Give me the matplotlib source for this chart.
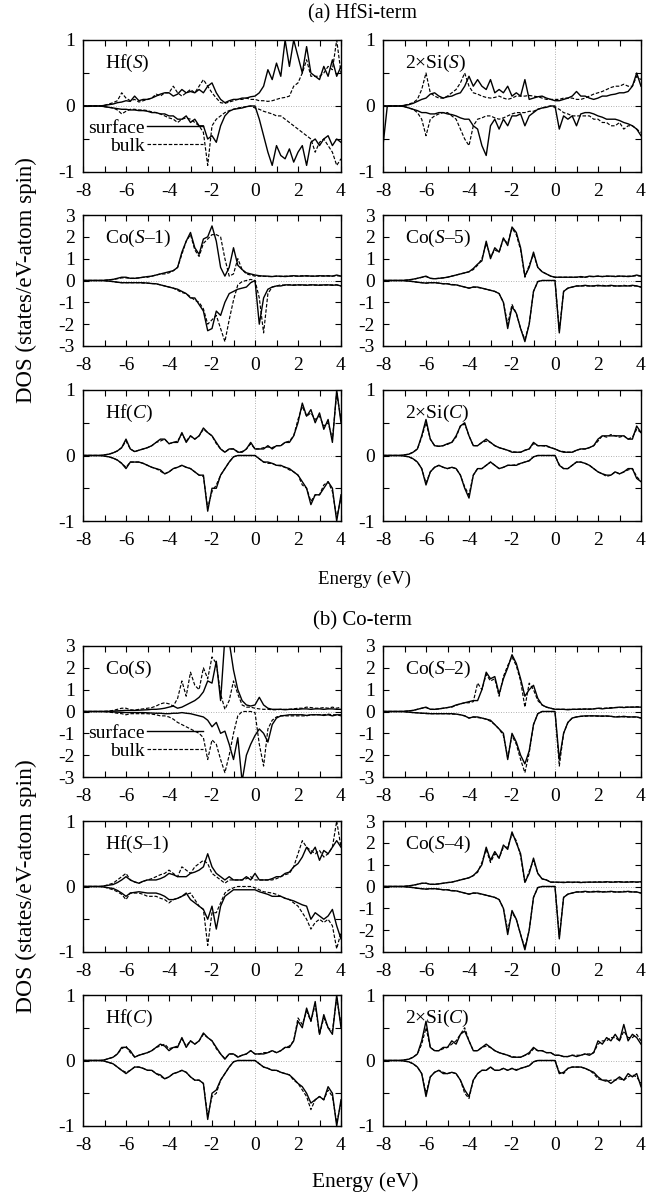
import numpy as np
import matplotlib
matplotlib.use("Agg")
import matplotlib.pyplot as plt
from matplotlib.ticker import MultipleLocator, FormatStrFormatter

plt.rcParams['font.family'] = ['Liberation Serif', 'DejaVu Serif']
plt.rcParams['mathtext.fontset'] = 'custom'
plt.rcParams['mathtext.rm'] = 'Liberation Serif'
plt.rcParams['mathtext.it'] = 'Liberation Serif:italic'
plt.rcParams['axes.unicode_minus'] = False

# energy grid (eV), 0.2 eV step from -8 to 4
energy = np.linspace(-8, 4, 61)

#---------------- (a) HfSi-term ----------------
# Hf(S)
a_hfS_surf_up = [0, 0, 0, 0, 0, 0.01, 0.02, 0.03, 0.05, 0.06, 0.08, 0.07, 0.15, 0.08, 0.1,
                 0.1, 0.12, 0.15, 0.18, 0.2, 0.2, 0.15, 0.18, 0.25, 0.2, 0.22, 0.2, 0.25, 0.2, 0.3,
                 0.35, 0.2, 0.1, 0.05, 0.08, 0.1, 0.1, 0.12, 0.12, 0.14, 0.15, 0.2, 0.3, 0.55, 0.4,
                 0.65, 0.45, 1.0, 0.6, 1.0, 0.75, 0.5, 0.9, 0.5, 0.45, 0.4, 0.6, 0.45, 0.7, 0.45, 0.6]
a_hfS_surf_dn = [0, 0, 0, 0, 0, -0.01, -0.02, -0.03, -0.04, -0.05, -0.05, -0.06, -0.06, -0.07, -0.07,
                 -0.08, -0.1, -0.1, -0.12, -0.12, -0.15, -0.15, -0.2, -0.2, -0.15, -0.25, -0.2, -0.3, -0.3, -0.5,
                 -0.45, -0.55, -0.3, -0.15, -0.08, -0.05, -0.04, -0.03, -0.01, 0, 0, -0.2, -0.45, -0.7, -0.9,
                 -0.6, -0.75, -0.8, -0.65, -0.85, -0.7, -0.6, -0.9, -0.55, -0.5, -0.6, -0.5, -0.45, -0.6, -0.5, -0.55]
a_hfS_bulk_up = [0, 0, 0, 0, 0, 0.01, 0.03, 0.05, 0.08, 0.2, 0.12, 0.08, 0.1, 0.06, 0.08,
                 0.1, 0.12, 0.18, 0.15, 0.2, 0.2, 0.3, 0.2, 0.15, 0.2, 0.25, 0.2, 0.3, 0.4, 0.3,
                 0.2, 0.12, 0.05, 0.04, 0.06, 0.08, 0.1, 0.1, 0.12, 0.1, 0.1, 0.08, 0.08, 0.07, 0.08,
                 0.1, 0.12, 0.13, 0.15, 0.3, 0.35, 0.5, 0.7, 0.45, 0.45, 0.45, 0.5, 0.6, 0.55, 1.0, 0.5]
a_hfS_bulk_dn = [0, 0, 0, 0, 0, -0.01, -0.02, -0.03, -0.06, -0.12, -0.08, -0.05, -0.05, -0.06, -0.06,
                 -0.07, -0.09, -0.1, -0.12, -0.15, -0.18, -0.2, -0.25, -0.2, -0.18, -0.2, -0.25, -0.3, -0.4, -0.9,
                 -0.3, -0.2, -0.15, -0.1, -0.07, -0.05, -0.03, -0.02, -0.01, 0, -0.03, -0.05, -0.08, -0.1, -0.12,
                 -0.15, -0.15, -0.2, -0.25, -0.3, -0.35, -0.4, -0.45, -0.5, -0.7, -0.55, -0.5, -0.6, -0.7, -0.9, -0.8]

# 2xSi(S)
a_siS_surf_up = [0, 0, 0, 0, 0, 0.01, 0.02, 0.04, 0.07, 0.1, 0.12, 0.18, 0.2, 0.15, 0.12,
                 0.14, 0.15, 0.18, 0.2, 0.3, 0.45, 0.3, 0.4, 0.3, 0.25, 0.4, 0.2, 0.25, 0.2, 0.3,
                 0.15, 0.2, 0.15, 0.4, 0.1, 0.12, 0.14, 0.15, 0.12, 0.1, 0.08, 0.08, 0.1, 0.12, 0.15,
                 0.22, 0.15, 0.15, 0.12, 0.1, 0.12, 0.15, 0.15, 0.17, 0.18, 0.2, 0.2, 0.22, 0.3, 0.5, 0.3]
a_siS_surf_dn = [-0.6, 0, 0, 0, 0, -0.01, -0.03, -0.05, -0.07, -0.1, -0.1, -0.12, -0.12, -0.1, -0.1,
                 -0.12, -0.13, -0.15, -0.18, -0.2, -0.2, -0.3, -0.35, -0.6, -0.75, -0.3, -0.2, -0.35, -0.2, -0.3,
                 -0.15, -0.15, -0.12, -0.3, -0.15, -0.1, -0.05, -0.03, -0.02, 0, 0, -0.35, -0.15, -0.2, -0.15,
                 -0.3, -0.12, -0.1, -0.1, -0.12, -0.15, -0.17, -0.2, -0.2, -0.2, -0.22, -0.25, -0.27, -0.3, -0.35, -0.45]
a_siS_bulk_up = [0, 0, 0, 0, 0, 0.01, 0.03, 0.05, 0.1, 0.25, 0.5, 0.2, 0.15, 0.12, 0.12,
                 0.15, 0.2, 0.25, 0.35, 0.5, 0.3, 0.2, 0.18, 0.15, 0.13, 0.12, 0.13, 0.15, 0.12, 0.1,
                 0.12, 0.15, 0.15, 0.15, 0.16, 0.15, 0.14, 0.12, 0.1, 0.1, 0.1, 0.1, 0.12, 0.12, 0.12,
                 0.1, 0.1, 0.12, 0.15, 0.18, 0.2, 0.22, 0.25, 0.28, 0.3, 0.3, 0.33, 0.3, 0.3, 0.45, 0.4]
a_siS_bulk_dn = [0, 0, 0, 0, 0, -0.01, -0.03, -0.05, -0.1, -0.2, -0.45, -0.2, -0.15, -0.12, -0.1,
                 -0.1, -0.15, -0.2, -0.35, -0.5, -0.6, -0.3, -0.2, -0.18, -0.15, -0.15, -0.18, -0.2, -0.18, -0.15,
                 -0.12, -0.1, -0.1, -0.1, -0.08, -0.08, -0.05, -0.03, -0.01, 0, -0.02, -0.05, -0.1, -0.12, -0.15,
                 -0.15, -0.15, -0.15, -0.15, -0.2, -0.2, -0.25, -0.25, -0.3, -0.3, -0.25, -0.35, -0.3, -0.3, -0.35, -0.4]

# Co(S-1)
a_co1_surf_up = [0, 0, 0, 0, 0, 0.01, 0.03, 0.05, 0.1, 0.15, 0.15, 0.1, 0.1, 0.12, 0.15,
                 0.18, 0.2, 0.25, 0.3, 0.35, 0.4, 0.45, 0.6, 1.3, 1.8, 2.2, 1.5, 1.2, 1.9, 2.0,
                 2.5, 1.8, 0.6, 0.2, 0.6, 1.5, 0.7, 0.5, 0.35, 0.3, 0.25, 0.22, 0.2, 0.2, 0.18,
                 0.2, 0.2, 0.18, 0.2, 0.22, 0.2, 0.2, 0.22, 0.2, 0.2, 0.22, 0.2, 0.22, 0.2, 0.25, 0.2]
a_co1_surf_dn = [0, 0, 0, 0, 0, -0.01, -0.03, -0.05, -0.08, -0.1, -0.1, -0.1, -0.1, -0.1, -0.1,
                 -0.12, -0.14, -0.15, -0.2, -0.25, -0.3, -0.35, -0.4, -0.5, -0.6, -0.8, -0.8, -1.1, -1.4, -2.3,
                 -2.2, -1.4, -1.6, -1.0, -0.6, -0.5, -0.4, -0.35, -0.3, -0.1, 0, -2.0, -0.8, -0.4, -0.3,
                 -0.25, -0.25, -0.2, -0.2, -0.22, -0.2, -0.2, -0.22, -0.2, -0.2, -0.22, -0.2, -0.2, -0.22, -0.2, -0.25]
a_co1_bulk_up = [0, 0, 0, 0, 0, 0.01, 0.03, 0.05, 0.08, 0.12, 0.12, 0.1, 0.1, 0.12, 0.15,
                 0.15, 0.2, 0.25, 0.3, 0.3, 0.35, 0.45, 0.6, 1.2, 1.8, 2.1, 1.4, 1.1, 1.7, 1.9,
                 2.1, 2.1, 2.0, 1.0, 0.2, 0.3, 1.0, 0.5, 0.3, 0.25, 0.2, 0.2, 0.2, 0.18, 0.18,
                 0.2, 0.18, 0.2, 0.2, 0.2, 0.2, 0.22, 0.2, 0.2, 0.2, 0.2, 0.22, 0.2, 0.2, 0.22, 0.2]
a_co1_bulk_dn = [0, 0, 0, 0, 0, -0.01, -0.03, -0.05, -0.08, -0.1, -0.1, -0.1, -0.1, -0.1, -0.12,
                 -0.12, -0.14, -0.15, -0.2, -0.25, -0.3, -0.35, -0.45, -0.55, -0.6, -0.75, -0.9, -1.0, -1.3, -2.0,
                 -1.8, -1.6, -2.2, -2.8, -1.8, -0.9, -0.2, -0.05, 0.0, 0.05, 0, -0.8, -2.4, -0.6, -0.3,
                 -0.25, -0.2, -0.22, -0.2, -0.2, -0.2, -0.22, -0.2, -0.2, -0.22, -0.2, -0.22, -0.2, -0.2, -0.2, -0.25]

# Co(S-5)
a_co5_surf_up = [0, 0, 0, 0, 0, 0.01, 0.03, 0.06, 0.1, 0.15, 0.2, 0.1, 0.08, 0.1, 0.12,
                 0.15, 0.2, 0.25, 0.3, 0.35, 0.4, 0.55, 0.75, 0.9, 1.8, 1.0, 1.5, 1.3, 1.95, 1.6,
                 2.45, 2.2, 1.5, 0.2, 0.6, 1.3, 0.6, 0.4, 0.3, 0.2, 0.15, 0.15, 0.15, 0.15, 0.15,
                 0.15, 0.18, 0.15, 0.2, 0.18, 0.2, 0.18, 0.2, 0.2, 0.18, 0.2, 0.2, 0.18, 0.2, 0.25, 0.2]
a_co5_surf_dn = [0, 0, 0, 0, 0, -0.01, -0.03, -0.05, -0.08, -0.1, -0.12, -0.1, -0.1, -0.12, -0.15,
                 -0.15, -0.2, -0.2, -0.25, -0.3, -0.35, -0.3, -0.3, -0.35, -0.4, -0.45, -0.5, -0.6, -1.0, -2.2,
                 -1.2, -1.5, -2.2, -2.8, -2.0, -0.5, -0.05, 0, 0, 0, 0, -2.4, -0.5, -0.35, -0.3,
                 -0.25, -0.25, -0.22, -0.25, -0.25, -0.22, -0.25, -0.25, -0.22, -0.25, -0.25, -0.25, -0.25, -0.22, -0.25, -0.3]
a_co5_bulk_up = [0, 0, 0, 0, 0, 0.01, 0.03, 0.05, 0.1, 0.14, 0.18, 0.1, 0.08, 0.1, 0.12,
                 0.15, 0.2, 0.25, 0.3, 0.35, 0.4, 0.5, 0.7, 1.0, 1.7, 1.1, 1.4, 1.3, 1.9, 1.7,
                 2.4, 2.1, 1.4, 0.15, 0.7, 1.2, 0.6, 0.4, 0.3, 0.2, 0.15, 0.15, 0.15, 0.15, 0.15,
                 0.15, 0.15, 0.15, 0.18, 0.18, 0.2, 0.18, 0.2, 0.18, 0.2, 0.2, 0.18, 0.2, 0.2, 0.22, 0.2]
a_co5_bulk_dn = [0, 0, 0, 0, 0, -0.01, -0.03, -0.05, -0.08, -0.1, -0.12, -0.1, -0.1, -0.12, -0.15,
                 -0.15, -0.18, -0.2, -0.25, -0.3, -0.35, -0.3, -0.32, -0.35, -0.4, -0.45, -0.5, -0.6, -1.0, -2.0,
                 -1.1, -1.5, -2.2, -2.7, -2.0, -0.5, -0.05, 0, 0, 0, 0, -2.3, -0.5, -0.35, -0.3,
                 -0.25, -0.25, -0.25, -0.25, -0.25, -0.25, -0.22, -0.25, -0.25, -0.25, -0.25, -0.22, -0.25, -0.25, -0.25, -0.3]

# Hf(C)
a_hfC_surf_up = [0, 0, 0, 0, 0, 0.01, 0.02, 0.04, 0.07, 0.12, 0.25, 0.1, 0.06, 0.08, 0.1,
                 0.12, 0.15, 0.2, 0.25, 0.25, 0.18, 0.2, 0.2, 0.35, 0.2, 0.3, 0.25, 0.3, 0.42, 0.35,
                 0.3, 0.2, 0.1, 0.05, 0.1, 0.1, 0.05, 0.05, 0.1, 0.2, 0.1, 0.1, 0.1, 0.15, 0.1,
                 0.15, 0.15, 0.2, 0.2, 0.3, 0.5, 0.8, 0.6, 0.7, 0.5, 0.65, 0.4, 0.55, 0.2, 1.0, 0.5]
a_hfC_surf_dn = [0, 0, 0, 0, 0, -0.01, -0.02, -0.04, -0.07, -0.12, -0.2, -0.1, -0.1, -0.1, -0.12,
                 -0.15, -0.18, -0.2, -0.22, -0.28, -0.25, -0.2, -0.18, -0.15, -0.18, -0.2, -0.25, -0.3, -0.3, -0.85,
                 -0.5, -0.5, -0.3, -0.2, -0.1, -0.02, 0, 0, 0, 0, 0, -0.05, -0.1, -0.1, -0.12,
                 -0.15, -0.15, -0.18, -0.2, -0.25, -0.3, -0.4, -0.5, -0.75, -0.6, -0.6, -0.5, -0.4, -0.5, -1.0, -0.6]
a_hfC_bulk_up = [0, 0, 0, 0, 0, 0.01, 0.02, 0.04, 0.07, 0.12, 0.22, 0.1, 0.06, 0.08, 0.1,
                 0.12, 0.15, 0.2, 0.22, 0.25, 0.18, 0.2, 0.22, 0.33, 0.22, 0.3, 0.25, 0.3, 0.4, 0.35,
                 0.3, 0.18, 0.1, 0.05, 0.1, 0.1, 0.06, 0.06, 0.1, 0.18, 0.1, 0.1, 0.12, 0.13, 0.12,
                 0.15, 0.15, 0.2, 0.22, 0.3, 0.55, 0.75, 0.6, 0.65, 0.55, 0.6, 0.45, 0.5, 0.25, 0.95, 0.55]
a_hfC_bulk_dn = [0, 0, 0, 0, 0, -0.01, -0.02, -0.04, -0.07, -0.12, -0.18, -0.1, -0.1, -0.1, -0.12,
                 -0.15, -0.18, -0.2, -0.24, -0.28, -0.25, -0.2, -0.18, -0.15, -0.18, -0.2, -0.25, -0.3, -0.32, -0.8,
                 -0.55, -0.45, -0.3, -0.2, -0.1, -0.02, 0, 0, 0, 0, 0, -0.05, -0.1, -0.12, -0.12,
                 -0.15, -0.16, -0.18, -0.22, -0.25, -0.3, -0.45, -0.5, -0.7, -0.6, -0.6, -0.45, -0.4, -0.55, -0.95, -0.65]

# 2xSi(C)
a_siC_surf_up = [0, 0, 0, 0, 0, 0.01, 0.02, 0.05, 0.1, 0.3, 0.55, 0.25, 0.15, 0.14, 0.15,
                 0.18, 0.2, 0.3, 0.45, 0.5, 0.3, 0.15, 0.15, 0.2, 0.25, 0.2, 0.15, 0.12, 0.1, 0.08,
                 0.05, 0.05, 0.05, 0.08, 0.1, 0.2, 0.15, 0.15, 0.15, 0.12, 0.1, 0.07, 0.05, 0.05, 0.05,
                 0.08, 0.1, 0.1, 0.12, 0.15, 0.25, 0.3, 0.3, 0.3, 0.3, 0.3, 0.3, 0.25, 0.25, 0.45, 0.35]
a_siC_surf_dn = [0, 0, 0, 0, 0, -0.01, -0.02, -0.05, -0.1, -0.2, -0.45, -0.25, -0.18, -0.15, -0.18,
                 -0.2, -0.18, -0.2, -0.3, -0.5, -0.65, -0.3, -0.2, -0.2, -0.15, -0.1, -0.15, -0.2, -0.18, -0.15,
                 -0.15, -0.15, -0.12, -0.1, -0.08, -0.02, 0, 0, 0, 0, 0, -0.15, -0.2, -0.2, -0.15,
                 -0.1, -0.1, -0.12, -0.15, -0.2, -0.25, -0.28, -0.3, -0.3, -0.25, -0.28, -0.25, -0.2, -0.2, -0.35, -0.4]
a_siC_bulk_up = [0, 0, 0, 0, 0, 0.01, 0.02, 0.05, 0.1, 0.28, 0.5, 0.25, 0.15, 0.14, 0.15,
                 0.17, 0.2, 0.28, 0.45, 0.48, 0.3, 0.15, 0.15, 0.2, 0.22, 0.2, 0.15, 0.12, 0.1, 0.08,
                 0.06, 0.05, 0.05, 0.08, 0.1, 0.18, 0.15, 0.15, 0.14, 0.12, 0.1, 0.07, 0.06, 0.05, 0.05,
                 0.08, 0.1, 0.1, 0.12, 0.15, 0.22, 0.3, 0.28, 0.32, 0.3, 0.28, 0.3, 0.25, 0.28, 0.4, 0.35]
a_siC_bulk_dn = [0, 0, 0, 0, 0, -0.01, -0.02, -0.05, -0.1, -0.2, -0.42, -0.25, -0.18, -0.15, -0.18,
                 -0.2, -0.18, -0.2, -0.3, -0.48, -0.6, -0.3, -0.2, -0.2, -0.15, -0.1, -0.15, -0.2, -0.18, -0.15,
                 -0.15, -0.14, -0.12, -0.1, -0.08, -0.02, 0, 0, 0, 0, 0, -0.14, -0.2, -0.2, -0.15,
                 -0.1, -0.1, -0.12, -0.15, -0.2, -0.25, -0.28, -0.32, -0.3, -0.25, -0.28, -0.25, -0.22, -0.2, -0.32, -0.4]

#---------------- (b) Co-term ----------------
# Co(S)
b_coS_surf_up = [0, 0, 0, 0, 0, 0.0, 0.01, 0.02, 0.03, 0.04, 0.05, 0.05, 0.05, 0.06, 0.07,
                 0.08, 0.1, 0.1, 0.12, 0.15, 0.2, 0.25, 0.15, 0.2, 0.3, 0.4, 0.5, 0.65, 0.9, 1.4,
                 1.3, 2.3, 0.5, 3.4, 3.2, 1.9, 1.0, 0.5, 0.3, 0.25, 0.3, 0.65, 0.3, 0.15, 0.1,
                 0.1, 0.1, 0.08, 0.1, 0.1, 0.1, 0.12, 0.12, 0.1, 0.12, 0.12, 0.1, 0.12, 0.12, 0.1, 0.1]
b_coS_surf_dn = [0, 0, 0, 0, 0, 0, -0.01, -0.02, -0.03, -0.04, -0.05, -0.05, -0.05, -0.05, -0.05,
                 -0.06, -0.07, -0.08, -0.08, -0.1, -0.1, -0.08, -0.08, -0.05, -0.08, -0.1, -0.15, -0.2, -0.25, -0.4,
                 -0.7, -0.5, -1.0, -0.9, -1.5, -2.2, -1.2, -3.2, -2.0, -1.5, -1.1, -0.8, -1.0, -1.4, -0.6,
                 -0.3, -0.2, -0.18, -0.15, -0.15, -0.15, -0.15, -0.18, -0.15, -0.15, -0.15, -0.18, -0.15, -0.2, -0.15, -0.15]
b_coS_bulk_up = [0, 0, 0, 0, 0, 0.01, 0.02, 0.05, 0.1, 0.15, 0.15, 0.08, 0.06, 0.1, 0.12,
                 0.15, 0.18, 0.25, 0.35, 0.4, 0.35, 0.25, 0.6, 1.4, 0.7, 1.8, 1.2, 1.0, 2.0, 1.5,
                 2.5, 2.2, 0.8, 0.1, 0.5, 1.4, 0.8, 0.3, 0.2, 0.2, 0.15, 0.12, 0.1, 0.1, 0.08,
                 0.08, 0.1, 0.1, 0.1, 0.12, 0.15, 0.15, 0.2, 0.18, 0.15, 0.15, 0.18, 0.15, 0.2, 0.15, 0.2]
b_coS_bulk_dn = [0, 0, 0, 0, 0, -0.01, -0.03, -0.05, -0.08, -0.1, -0.15, -0.1, -0.1, -0.1, -0.1,
                 -0.1, -0.12, -0.15, -0.2, -0.2, -0.25, -0.35, -0.5, -0.6, -0.7, -0.8, -0.9, -1.0, -1.2, -2.2,
                 -1.3, -1.5, -2.2, -2.8, -2.0, -1.0, -0.2, 0.0, 0.0, 0.0, -0.05, -1.5, -2.5, -0.8, -0.4,
                 -0.25, -0.2, -0.2, -0.2, -0.2, -0.2, -0.2, -0.2, -0.15, -0.15, -0.15, -0.15, -0.12, -0.15, -0.15, -0.2]

# Co(S-2)
b_co2_surf_up = [0, 0, 0, 0, 0, 0.01, 0.03, 0.05, 0.1, 0.15, 0.2, 0.1, 0.1, 0.12, 0.15,
                 0.18, 0.22, 0.3, 0.35, 0.4, 0.45, 0.5, 0.5, 1.0, 1.8, 1.5, 1.6, 0.8, 1.5, 2.0,
                 2.6, 2.2, 1.5, 0.7, 1.0, 1.2, 0.6, 0.3, 0.2, 0.15, 0.1, 0.1, 0.1, 0.08, 0.1,
                 0.1, 0.1, 0.12, 0.1, 0.12, 0.15, 0.12, 0.15, 0.15, 0.18, 0.2, 0.18, 0.2, 0.2, 0.2, 0.2]
b_co2_surf_dn = [0, 0, 0, 0, 0, -0.01, -0.03, -0.05, -0.06, -0.08, -0.08, -0.1, -0.1, -0.1, -0.1,
                 -0.1, -0.1, -0.12, -0.15, -0.2, -0.3, -0.25, -0.25, -0.3, -0.35, -0.4, -0.6, -0.8, -1.0, -2.2,
                 -1.0, -1.4, -2.0, -2.4, -1.8, -0.6, -0.1, 0, 0, 0, 0, -2.2, -1.0, -0.5, -0.3,
                 -0.25, -0.22, -0.2, -0.2, -0.2, -0.2, -0.22, -0.2, -0.22, -0.25, -0.25, -0.22, -0.25, -0.25, -0.25, -0.3]
b_co2_bulk_up = [0, 0, 0, 0, 0, 0.01, 0.03, 0.05, 0.1, 0.15, 0.18, 0.1, 0.1, 0.12, 0.15,
                 0.18, 0.2, 0.28, 0.35, 0.4, 0.4, 0.45, 1.3, 1.0, 1.7, 1.4, 1.5, 0.7, 1.6, 2.1,
                 2.5, 2.1, 1.4, 0.2, 1.3, 1.0, 0.5, 0.3, 0.2, 0.15, 0.1, 0.1, 0.1, 0.1, 0.1,
                 0.1, 0.12, 0.1, 0.12, 0.12, 0.15, 0.15, 0.15, 0.18, 0.18, 0.18, 0.2, 0.2, 0.2, 0.22, 0.2]
b_co2_bulk_dn = [0, 0, 0, 0, 0, -0.01, -0.03, -0.05, -0.06, -0.08, -0.1, -0.1, -0.1, -0.1, -0.1,
                 -0.1, -0.12, -0.12, -0.15, -0.2, -0.3, -0.25, -0.28, -0.3, -0.35, -0.45, -0.6, -0.8, -1.1, -2.1,
                 -1.1, -1.5, -2.2, -2.8, -1.9, -0.6, -0.1, 0, 0, 0, 0, -2.5, -1.0, -0.5, -0.3,
                 -0.25, -0.22, -0.22, -0.2, -0.2, -0.22, -0.2, -0.22, -0.22, -0.25, -0.22, -0.25, -0.25, -0.25, -0.25, -0.3]

# Hf(S-1)
b_hf1_surf_up = [0, 0, 0, 0, 0, 0.01, 0.02, 0.03, 0.06, 0.1, 0.15, 0.1, 0.07, 0.05, 0.08,
                 0.1, 0.1, 0.1, 0.12, 0.15, 0.2, 0.18, 0.15, 0.15, 0.15, 0.2, 0.22, 0.25, 0.3, 0.5,
                 0.3, 0.2, 0.15, 0.1, 0.15, 0.1, 0.1, 0.1, 0.15, 0.1, 0.2, 0.1, 0.1, 0.1, 0.12,
                 0.15, 0.15, 0.2, 0.22, 0.3, 0.35, 0.45, 0.6, 0.5, 0.6, 0.4, 0.55, 0.5, 0.6, 0.7, 0.6]
b_hf1_surf_dn = [0, 0, 0, 0, 0, -0.01, -0.02, -0.03, -0.06, -0.1, -0.15, -0.1, -0.09, -0.08, -0.09,
                 -0.1, -0.1, -0.1, -0.12, -0.15, -0.2, -0.2, -0.18, -0.15, -0.1, -0.2, -0.25, -0.3, -0.35, -0.5,
                 -0.3, -0.65, -0.3, -0.15, -0.1, -0.05, -0.05, -0.05, -0.05, -0.05, -0.05, -0.08, -0.1, -0.12, -0.15,
                 -0.15, -0.15, -0.18, -0.2, -0.22, -0.25, -0.28, -0.3, -0.5, -0.4, -0.45, -0.5, -0.45, -0.35, -0.6, -0.8]
b_hf1_bulk_up = [0, 0, 0, 0, 0, 0.01, 0.03, 0.05, 0.1, 0.15, 0.2, 0.1, 0.07, 0.05, 0.08,
                 0.1, 0.12, 0.15, 0.18, 0.2, 0.25, 0.2, 0.15, 0.3, 0.25, 0.2, 0.3, 0.35, 0.4, 0.35,
                 0.2, 0.15, 0.1, 0.05, 0.1, 0.1, 0.1, 0.1, 0.12, 0.15, 0.1, 0.1, 0.1, 0.1, 0.1,
                 0.12, 0.15, 0.18, 0.2, 0.3, 0.5, 0.7, 0.6, 0.55, 0.5, 0.55, 0.45, 0.5, 0.6, 1.0, 0.6]
b_hf1_bulk_dn = [0, 0, 0, 0, 0, -0.01, -0.03, -0.05, -0.08, -0.12, -0.2, -0.1, -0.1, -0.1, -0.12,
                 -0.15, -0.15, -0.15, -0.18, -0.2, -0.25, -0.2, -0.18, -0.15, -0.12, -0.1, -0.2, -0.3, -0.35, -0.9,
                 -0.4, -0.4, -0.25, -0.1, -0.05, -0.02, 0, 0, 0, 0, -0.02, -0.05, -0.08, -0.09, -0.1,
                 -0.12, -0.15, -0.18, -0.2, -0.25, -0.3, -0.4, -0.5, -0.65, -0.55, -0.5, -0.55, -0.5, -0.6, -0.95, -0.7]

# Co(S-4)
b_co4_surf_up = [0, 0, 0, 0, 0, 0.01, 0.03, 0.06, 0.1, 0.15, 0.15, 0.1, 0.1, 0.12, 0.15,
                 0.18, 0.2, 0.25, 0.3, 0.35, 0.4, 0.5, 0.7, 1.0, 1.8, 1.2, 1.6, 1.3, 1.9, 1.7,
                 2.5, 2.0, 1.5, 0.2, 0.6, 1.3, 0.6, 0.35, 0.3, 0.2, 0.2, 0.2, 0.18, 0.2, 0.2,
                 0.2, 0.18, 0.2, 0.2, 0.2, 0.2, 0.2, 0.22, 0.2, 0.2, 0.22, 0.2, 0.2, 0.22, 0.2, 0.22]
b_co4_surf_dn = [0, 0, 0, 0, 0, -0.01, -0.03, -0.05, -0.08, -0.1, -0.12, -0.1, -0.1, -0.12, -0.15,
                 -0.15, -0.2, -0.2, -0.25, -0.3, -0.35, -0.3, -0.3, -0.35, -0.4, -0.45, -0.5, -0.6, -1.0, -2.2,
                 -1.1, -1.5, -2.2, -2.9, -2.0, -0.5, -0.05, 0, 0, 0, 0, -2.4, -0.5, -0.35, -0.3,
                 -0.25, -0.25, -0.22, -0.25, -0.25, -0.22, -0.25, -0.25, -0.22, -0.25, -0.25, -0.25, -0.22, -0.25, -0.25, -0.3]
b_co4_bulk_up = [0, 0, 0, 0, 0, 0.01, 0.03, 0.05, 0.1, 0.14, 0.15, 0.1, 0.1, 0.12, 0.15,
                 0.18, 0.2, 0.25, 0.3, 0.35, 0.4, 0.5, 0.65, 1.1, 1.7, 1.1, 1.5, 1.3, 1.8, 1.8,
                 2.4, 2.1, 1.4, 0.15, 0.7, 1.2, 0.6, 0.35, 0.3, 0.2, 0.2, 0.18, 0.2, 0.2, 0.18,
                 0.2, 0.2, 0.18, 0.2, 0.2, 0.22, 0.2, 0.2, 0.2, 0.22, 0.2, 0.2, 0.22, 0.2, 0.2, 0.2]
b_co4_bulk_dn = [0, 0, 0, 0, 0, -0.01, -0.03, -0.05, -0.08, -0.1, -0.12, -0.1, -0.1, -0.12, -0.15,
                 -0.15, -0.18, -0.2, -0.25, -0.3, -0.35, -0.3, -0.32, -0.35, -0.4, -0.45, -0.5, -0.6, -1.0, -2.0,
                 -1.2, -1.5, -2.2, -2.8, -2.0, -0.5, -0.05, 0, 0, 0, 0, -2.3, -0.5, -0.35, -0.3,
                 -0.25, -0.25, -0.25, -0.25, -0.22, -0.25, -0.25, -0.22, -0.25, -0.25, -0.25, -0.22, -0.25, -0.25, -0.25, -0.3]

# Hf(C)
b_hfC_surf_up = [0, 0, 0, 0, 0, 0.01, 0.03, 0.05, 0.1, 0.2, 0.2, 0.15, 0.05, 0.08, 0.1,
                 0.12, 0.15, 0.2, 0.25, 0.22, 0.15, 0.2, 0.2, 0.35, 0.2, 0.3, 0.25, 0.3, 0.42, 0.35,
                 0.3, 0.2, 0.1, 0.02, 0.1, 0.1, 0.05, 0.08, 0.1, 0.15, 0.1, 0.1, 0.1, 0.12, 0.15,
                 0.12, 0.15, 0.2, 0.2, 0.3, 0.6, 0.5, 0.8, 0.6, 0.9, 0.4, 0.7, 0.5, 0.4, 1.0, 0.5]
b_hfC_surf_dn = [0, 0, 0, 0, 0, -0.01, -0.03, -0.05, -0.1, -0.15, -0.2, -0.15, -0.1, -0.1, -0.12,
                 -0.15, -0.15, -0.2, -0.22, -0.28, -0.25, -0.2, -0.18, -0.15, -0.18, -0.25, -0.3, -0.3, -0.35, -0.9,
                 -0.5, -0.45, -0.3, -0.2, -0.1, -0.02, 0, 0, 0, 0, 0, -0.05, -0.1, -0.12, -0.15,
                 -0.15, -0.18, -0.2, -0.22, -0.28, -0.35, -0.4, -0.5, -0.65, -0.6, -0.55, -0.6, -0.4, -0.5, -1.0, -0.6]
b_hfC_bulk_up = [0, 0, 0, 0, 0, 0.01, 0.03, 0.05, 0.1, 0.18, 0.22, 0.12, 0.06, 0.08, 0.1,
                 0.12, 0.15, 0.2, 0.22, 0.25, 0.18, 0.2, 0.22, 0.33, 0.22, 0.3, 0.25, 0.3, 0.4, 0.35,
                 0.3, 0.18, 0.1, 0.03, 0.1, 0.1, 0.06, 0.08, 0.1, 0.15, 0.1, 0.1, 0.12, 0.12, 0.15,
                 0.12, 0.15, 0.2, 0.22, 0.3, 0.65, 0.55, 0.75, 0.6, 0.85, 0.4, 0.65, 0.5, 0.45, 0.95, 0.55]
b_hfC_bulk_dn = [0, 0, 0, 0, 0, -0.01, -0.03, -0.05, -0.1, -0.15, -0.18, -0.15, -0.1, -0.1, -0.12,
                 -0.15, -0.15, -0.2, -0.24, -0.28, -0.25, -0.2, -0.18, -0.15, -0.18, -0.25, -0.3, -0.3, -0.35, -0.85,
                 -0.55, -0.5, -0.3, -0.2, -0.1, -0.02, 0, 0, 0, 0, 0, -0.05, -0.1, -0.12, -0.15,
                 -0.15, -0.18, -0.2, -0.22, -0.3, -0.35, -0.45, -0.55, -0.75, -0.6, -0.55, -0.6, -0.45, -0.55, -0.95, -0.65]

# 2xSi(C)
b_siC_surf_up = [0, 0, 0, 0, 0, 0.01, 0.02, 0.05, 0.1, 0.3, 0.6, 0.2, 0.15, 0.15, 0.2,
                 0.2, 0.3, 0.25, 0.4, 0.45, 0.3, 0.15, 0.15, 0.2, 0.25, 0.2, 0.15, 0.12, 0.1, 0.08,
                 0.05, 0.05, 0.05, 0.08, 0.12, 0.2, 0.15, 0.15, 0.12, 0.12, 0.08, 0.08, 0.06, 0.06, 0.08,
                 0.06, 0.08, 0.1, 0.08, 0.12, 0.3, 0.25, 0.35, 0.3, 0.4, 0.3, 0.55, 0.3, 0.4, 0.35, 0.25]
b_siC_surf_dn = [0, 0, 0, 0, 0, -0.01, -0.02, -0.05, -0.1, -0.2, -0.55, -0.25, -0.18, -0.15, -0.2,
                 -0.2, -0.18, -0.2, -0.3, -0.45, -0.55, -0.3, -0.2, -0.15, -0.15, -0.1, -0.15, -0.15, -0.12, -0.15,
                 -0.12, -0.15, -0.12, -0.1, -0.08, -0.02, 0, 0, 0, 0, 0, -0.2, -0.18, -0.12, -0.1,
                 -0.1, -0.1, -0.12, -0.15, -0.18, -0.25, -0.3, -0.3, -0.35, -0.3, -0.25, -0.3, -0.2, -0.25, -0.2, -0.4]
b_siC_bulk_up = [0, 0, 0, 0, 0, 0.01, 0.02, 0.05, 0.1, 0.25, 0.5, 0.2, 0.15, 0.15, 0.18,
                 0.2, 0.25, 0.3, 0.4, 0.5, 0.3, 0.15, 0.15, 0.2, 0.22, 0.2, 0.15, 0.12, 0.1, 0.08,
                 0.06, 0.05, 0.05, 0.08, 0.1, 0.18, 0.15, 0.15, 0.12, 0.12, 0.08, 0.08, 0.06, 0.06, 0.08,
                 0.08, 0.08, 0.1, 0.1, 0.12, 0.25, 0.3, 0.3, 0.35, 0.35, 0.3, 0.45, 0.35, 0.35, 0.4, 0.3]
b_siC_bulk_dn = [0, 0, 0, 0, 0, -0.01, -0.02, -0.05, -0.1, -0.2, -0.5, -0.25, -0.18, -0.15, -0.18,
                 -0.2, -0.18, -0.2, -0.3, -0.5, -0.58, -0.3, -0.2, -0.15, -0.15, -0.1, -0.15, -0.15, -0.12, -0.15,
                 -0.12, -0.14, -0.12, -0.1, -0.08, -0.02, 0, 0, 0, 0, 0, -0.18, -0.2, -0.12, -0.1,
                 -0.1, -0.1, -0.12, -0.15, -0.2, -0.28, -0.3, -0.32, -0.3, -0.3, -0.28, -0.3, -0.25, -0.22, -0.25, -0.35]

labels_a = ['Hf($S$)', '2\u00d7Si($S$)', 'Co($S$\u20131)', 'Co($S$\u20135)', 'Hf($C$)', '2\u00d7Si($C$)']
labels_b = ['Co($S$)', 'Co($S$\u20132)', 'Hf($S$\u20131)', 'Co($S$\u20134)', 'Hf($C$)', '2\u00d7Si($C$)']
ylims_a = [1, 1, 3, 3, 1, 1]
ylims_b = [3, 3, 1, 3, 1, 1]

curves_a = [(a_hfS_surf_up, a_hfS_surf_dn, a_hfS_bulk_up, a_hfS_bulk_dn),
            (a_siS_surf_up, a_siS_surf_dn, a_siS_bulk_up, a_siS_bulk_dn),
            (a_co1_surf_up, a_co1_surf_dn, a_co1_bulk_up, a_co1_bulk_dn),
            (a_co5_surf_up, a_co5_surf_dn, a_co5_bulk_up, a_co5_bulk_dn),
            (a_hfC_surf_up, a_hfC_surf_dn, a_hfC_bulk_up, a_hfC_bulk_dn),
            (a_siC_surf_up, a_siC_surf_dn, a_siC_bulk_up, a_siC_bulk_dn)]
curves_b = [(b_coS_surf_up, b_coS_surf_dn, b_coS_bulk_up, b_coS_bulk_dn),
            (b_co2_surf_up, b_co2_surf_dn, b_co2_bulk_up, b_co2_bulk_dn),
            (b_hf1_surf_up, b_hf1_surf_dn, b_hf1_bulk_up, b_hf1_bulk_dn),
            (b_co4_surf_up, b_co4_surf_dn, b_co4_bulk_up, b_co4_bulk_dn),
            (b_hfC_surf_up, b_hfC_surf_dn, b_hfC_bulk_up, b_hfC_bulk_dn),
            (b_siC_surf_up, b_siC_surf_dn, b_siC_bulk_up, b_siC_bulk_dn)]

#layout in pixels
W, H = 662, 1198
col_x = [83, 383]
ax_w = 258
row_y = [(40, 172), (215, 346), (390, 521), (646, 777), (821, 952), (995, 1126)]

fig = plt.figure(figsize=(W / 100.0, H / 100.0), dpi=100)


def draw_panel(ax, label, ylim, curves, legend=False):
    su, sd, bu, bd = curves
    ax.axhline(0, color='0.6', lw=0.6, ls=(0, (1, 2)), zorder=0)
    ax.axvline(0, color='0.6', lw=0.6, ls=(0, (1, 2)), zorder=0)
    l1, = ax.plot(energy, su, color='k', lw=1.0, label='surface')
    ax.plot(energy, sd, color='k', lw=1.0)
    l2, = ax.plot(energy, bu, color='k', lw=0.85, dashes=(3, 1.5), label='bulk')
    ax.plot(energy, bd, color='k', lw=0.85, dashes=(3, 1.5))
    ax.set_xlim(-8, 4)
    ax.set_ylim(-ylim, ylim)
    ax.xaxis.set_major_locator(MultipleLocator(2))
    ax.xaxis.set_minor_locator(MultipleLocator(1))
    ax.yaxis.set_major_locator(MultipleLocator(1))
    if ylim == 1:
        ax.yaxis.set_minor_locator(MultipleLocator(0.5))
    ax.yaxis.set_major_formatter(FormatStrFormatter('%d'))
    ax.xaxis.set_major_formatter(FormatStrFormatter('%d'))
    ax.tick_params(which='both', direction='in', top=True, right=True, length=4, width=0.8)
    ax.tick_params(axis='x', labelsize=14, pad=8)
    ax.tick_params(axis='y', labelsize=14, pad=6)
    for s in ax.spines.values():
        s.set_linewidth(1.0)
    ax.text(0.085, 0.82, label, transform=ax.transAxes, fontsize=14, va='center', ha='left')
    if legend:
        ax.legend(handles=[l1, l2], loc='center right', bbox_to_anchor=(0.465, 0.265),
                  frameon=False, markerfirst=False, fontsize=14, handlelength=2.9,
                  handletextpad=0.1, labelspacing=0.0, borderpad=0, borderaxespad=0)


for blk, (labels, ylims, curves) in enumerate([(labels_a, ylims_a, curves_a), (labels_b, ylims_b, curves_b)]):
    for i in range(6):
        r = blk * 3 + i // 2
        c = i % 2
        yt, yb = row_y[r]
        ax = fig.add_axes([col_x[c] / W, 1 - yb / float(H), ax_w / float(W), (yb - yt) / float(H)])
        draw_panel(ax, labels[i], ylims[i], curves[i], legend=(i == 0))

fig.text(362.0 / W, 1 - 14.0 / H, '(a) HfSi-term', ha='center', va='center', fontsize=14.5)
fig.text(362.0 / W, 1 - 621.0 / H, '(b) Co-term', ha='center', va='center', fontsize=15)
fig.text(365.0 / W, 1 - 579.0 / H, 'Energy (eV)', ha='center', va='center', fontsize=13.5)
fig.text(365.0 / W, 1 - 1182.0 / H, 'Energy (eV)', ha='center', va='center', fontsize=15.5)
fig.text(26.0 / W, 1 - 280.0 / H, 'DOS (states/eV-atom spin)', rotation=90, ha='center', va='center', fontsize=16.5)
fig.text(26.0 / W, 1 - 886.0 / H, 'DOS (states/eV-atom spin)', rotation=90, ha='center', va='center', fontsize=17)

fig.savefig('out.png', dpi=100)
